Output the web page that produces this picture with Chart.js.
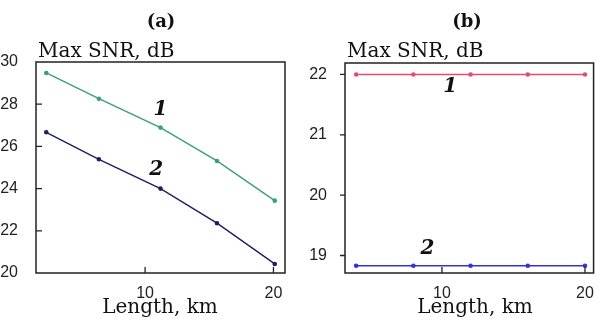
<!DOCTYPE html>
<html>
<head>
<meta charset="utf-8">
<script src="https://cdn.jsdelivr.net/npm/chart.js@4/dist/chart.umd.min.js"></script>
<style>
  html, body { margin: 0; padding: 0; background: #fff; }
  #wrap { position: relative; width: 597px; height: 324px; }
  .panel { position: absolute; top: 0; height: 324px; }
  #pa { left: 0; width: 297px; }
  #pb { left: 297px; width: 300px; }
</style>
</head>
<body>
<div id="wrap">
  <div class="panel" id="pa"><canvas id="chartA"></canvas></div>
  <div class="panel" id="pb"><canvas id="chartB"></canvas></div>
</div>
<script>
// panel (a)
const lengthA = [2.3, 6.4, 11.2, 15.6, 20.1];
const snrA1 = [29.48, 28.26, 26.89, 25.31, 23.43];
const snrA2 = [26.67, 25.39, 24.0, 22.36, 20.43];
const xTicksA = [10, 20];
const yTicksA = [20, 22, 24, 26, 28, 30];

// panel (b)
const lengthB = [4, 8, 12, 16, 20];
const snrB1 = [22, 22, 22, 22, 22];
const snrB2 = [18.83, 18.83, 18.83, 18.83, 18.83];
const xTicksB = [10, 20];
const yTicksB = [19, 20, 21, 22];

const serif = '"DejaVu Serif", "Liberation Serif", serif';
const sans = '"Liberation Sans", Arial, sans-serif';

const pts = (xs, ys) => xs.map((x, i) => ({ x: x, y: ys[i] }));

// frame, tick marks and text labels
const decor = {
  id: 'decor',
  afterDraw(chart, args, o) {
    const ctx = chart.ctx;
    const a = chart.chartArea;
    const xs = chart.scales.x, ys = chart.scales.y;
    ctx.save();
    ctx.strokeStyle = '#222';
    ctx.lineWidth = 1.5;
    ctx.strokeRect(a.left, a.top, a.right - a.left, a.bottom - a.top);
    ctx.lineWidth = 1.3;
    ctx.beginPath();
    xs.ticks.forEach(t => {
      const px = xs.getPixelForValue(t.value);
      ctx.moveTo(px, a.bottom);
      ctx.lineTo(px, a.bottom - 6);
    });
    ys.ticks.forEach(t => {
      if (t.value === ys.min || t.value === ys.max) return;
      const py = ys.getPixelForValue(t.value);
      ctx.moveTo(a.left, py);
      ctx.lineTo(a.left + o.yTick, py);
    });
    ctx.stroke();

    ctx.fillStyle = '#111';
    ctx.textAlign = 'center';
    ctx.textBaseline = 'alphabetic';
    ctx.font = 'bold 18px ' + serif;
    ctx.fillText(o.panel, o.panelX, 27);
    ctx.font = '20px ' + serif;
    ctx.fillText('Length, km', o.titleX, 313);
    ctx.textAlign = 'left';
    ctx.fillText('Max SNR, dB', a.left + 2, 57);

    ctx.textAlign = 'center';
    ctx.textBaseline = 'middle';
    ctx.font = 'italic bold 20px ' + serif;
    o.marks.forEach(m => {
      ctx.fillText(m.t, xs.getPixelForValue(m.x), ys.getPixelForValue(m.y));
    });
    ctx.restore();
  }
};

function makeChart(id, cfg) {
  return new Chart(document.getElementById(id), {
    type: 'scatter',
    data: {
      datasets: cfg.series.map(s => ({
        data: s.data,
        showLine: true,
        borderColor: s.color,
        backgroundColor: s.color,
        borderWidth: 1.4,
        pointRadius: 1.6,
        pointHoverRadius: 1.6
      }))
    },
    options: {
      responsive: false,
      animation: false,
      events: [],
      layout: { padding: cfg.padding },
      plugins: { legend: { display: false }, tooltip: { enabled: false }, decor: cfg.decor },
      scales: {
        x: {
          type: 'linear', min: cfg.xMin, max: cfg.xMax,
          grid: { display: false }, border: { display: false },
          afterBuildTicks: s => { s.ticks = cfg.xTicks.map(v => ({ value: v })); },
          afterFit: s => { s.height = 51; },
          ticks: { padding: 3, color: '#222', font: { family: sans, size: 16 } }
        },
        y: {
          type: 'linear', min: cfg.yMin, max: cfg.yMax,
          grid: { display: false }, border: { display: false },
          afterBuildTicks: s => { s.ticks = cfg.yTicks.map(v => ({ value: v })); },
          afterFit: s => { s.width = cfg.yWidth; },
          ticks: { padding: 10, color: '#222', font: { family: sans, size: 16 } }
        }
      }
    },
    plugins: [decor]
  });
}

const cA = document.getElementById('chartA');
cA.width = 297; cA.height = 324;
const cB = document.getElementById('chartB');
cB.width = 300; cB.height = 324;

makeChart('chartA', {
  series: [
    { data: pts(lengthA, snrA1), color: '#3a9f82' },
    { data: pts(lengthA, snrA2), color: '#1e1e62' }
  ],
  padding: { top: 62, right: 12, bottom: 0, left: 0 },
  xMin: 1.5, xMax: 20.9, yMin: 20, yMax: 30,
  xTicks: xTicksA, yTicks: yTicksA, yWidth: 36,
  decor: {
    panel: '(a)', panelX: 161, titleX: 160, yTick: 6,
    marks: [{ t: '1', x: 11.2, y: 27.73 }, { t: '2', x: 10.86, y: 24.88 }]
  }
});

makeChart('chartB', {
  series: [
    { data: pts(lengthB, snrB1), color: '#e0506a' },
    { data: pts(lengthB, snrB2), color: '#3434d4' }
  ],
  padding: { top: 63, right: 2, bottom: 0, left: 0 },
  xMin: 3.22, xMax: 20.6, yMin: 18.71, yMax: 22.19,
  xTicks: xTicksB, yTicks: yTicksB, yWidth: 48,
  decor: {
    panel: '(b)', panelX: 170, titleX: 178, yTick: -5,
    marks: [{ t: '1', x: 10.58, y: 21.8 }, { t: '2', x: 8.98, y: 19.11 }]
  }
});
</script>
</body>
</html>
